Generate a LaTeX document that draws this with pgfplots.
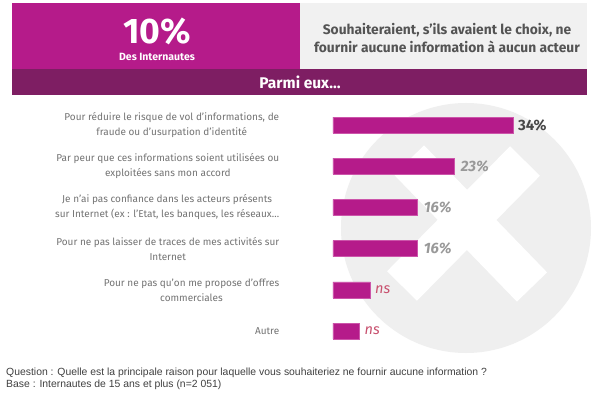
\documentclass[border=0pt]{standalone}
\usepackage{pgfplots}
\pgfplotsset{compat=1.18}
\usepackage{fontspec}
\setmainfont{Fira Sans}
\newfontfamily\arialfont{Liberation Sans}
\definecolor{mag}{HTML}{B51B8A}
\definecolor{magedge}{HTML}{CC55AA}
\definecolor{band}{HTML}{7E1E63}
\definecolor{hdrgray}{HTML}{F1F1F1}
\definecolor{circ}{HTML}{EFEFEF}
\definecolor{lbl}{HTML}{737373}
\definecolor{nscol}{HTML}{C8506E}
\pgfdeclarelayer{background}
\pgfsetlayers{background,main}
\begin{document}
\begin{tikzpicture}
\begin{axis}[
  name=ax,
  scale only axis, width=211.6pt, height=247.2pt,
  xbar, bar width=16pt,
  xmin=0, xmax=40, ymin=-0.5, ymax=5.5,
  axis line style={draw=none}, tick style={draw=none},
  xtick=\empty, ytick={0,1,2,3,4,5},
  yticklabels={{Autre},{Pour ne pas qu'on me propose d'offres\\commerciales},{Pour ne pas laisser de traces de mes activités sur\\Internet},{Je n'ai pas confiance dans les acteurs présents\\sur Internet (ex : l'Etat, les banques, les réseaux\ldots},{Par peur que ces informations soient utilisées ou\\exploitées sans mon accord},{Pour réduire le risque de vol d'informations, de\\fraude ou d'usurpation d'identité}},
  yticklabel style={align=center,text=lbl,font=\fontsize{10}{15}\selectfont,xshift=-46pt},
  clip=false,
]
\addplot[fill=mag,draw=magedge,line width=0.6pt] table[x=v,y=c] {
c v
0 5
1 7
2 16
3 16
4 23
5 34
};
\node[anchor=west,inner sep=5pt,text=black!72,font=\bfseries\fontsize{15}{17}\selectfont] at (axis cs:34,5) {34\%};
\node[anchor=west,inner sep=6pt,text=black!40,font=\bfseries\itshape\fontsize{15}{17}\selectfont] at (axis cs:23,4) {23\%};
\node[anchor=west,inner sep=6pt,text=black!40,font=\bfseries\itshape\fontsize{15}{17}\selectfont] at (axis cs:16,3) {16\%};
\node[anchor=west,inner sep=6pt,text=black!40,font=\bfseries\itshape\fontsize{15}{17}\selectfont] at (axis cs:16,2) {16\%};
\node[anchor=west,inner sep=5pt,text=nscol,font=\itshape\fontsize{14.5}{16}\selectfont] at (axis cs:7,1) {ns};
\node[anchor=west,inner sep=5pt,text=nscol,font=\itshape\fontsize{14.5}{16}\selectfont] at (axis cs:5,0) {ns};
\coordinate (O) at (axis cs:0,-0.5);
\end{axis}
\begin{scope}[shift={(O)}, xshift=-333pt, yshift=-45.4pt, x=1pt, y=1pt]
\begin{pgfonlayer}{background}
\fill[white] (0,0) rectangle (600,397);
% background circle with X
\fill[circ] (466,169) circle (125);
\draw[white,line width=42pt] (409,237) -- (532,110);
\draw[white,line width=42pt] (525,236) -- (402,111);
\end{pgfonlayer}
% header
\fill[mag] (12,394) rectangle (300,328);
\fill[hdrgray] (300,394) rectangle (587,328);
\fill[band] (12,328) rectangle (587,302);
\node[text=white,font=\bfseries\fontsize{35.5}{37}\selectfont] at (157,366) {10\%};
\node[text=white,font=\bfseries\fontsize{10.5}{12}\selectfont] at (157,340) {Des Internautes};
\node[text=white,font=\bfseries\fontsize{15.5}{17}\selectfont] at (300,315) {Parmi eux\ldots};
\node[text=black!67,align=center,font=\bfseries\fontsize{13.8}{18}\selectfont] at (447,359) {Souhaiteraient, s’ils avaient le choix, ne\\fournir aucune information à aucun acteur};
% footer
\node[anchor=west,inner sep=0pt,text=black!75,font=\arialfont\fontsize{10.4}{12}\selectfont] at (6,24) {Question : Quelle est la principale raison pour laquelle vous souhaiteriez ne fournir aucune information ?};
\node[anchor=west,inner sep=0pt,text=black!75,font=\arialfont\fontsize{10.4}{12}\selectfont] at (6,12) {Base : Internautes de 15 ans et plus (n=2 051)};
\end{scope}
\end{tikzpicture}
\end{document}
